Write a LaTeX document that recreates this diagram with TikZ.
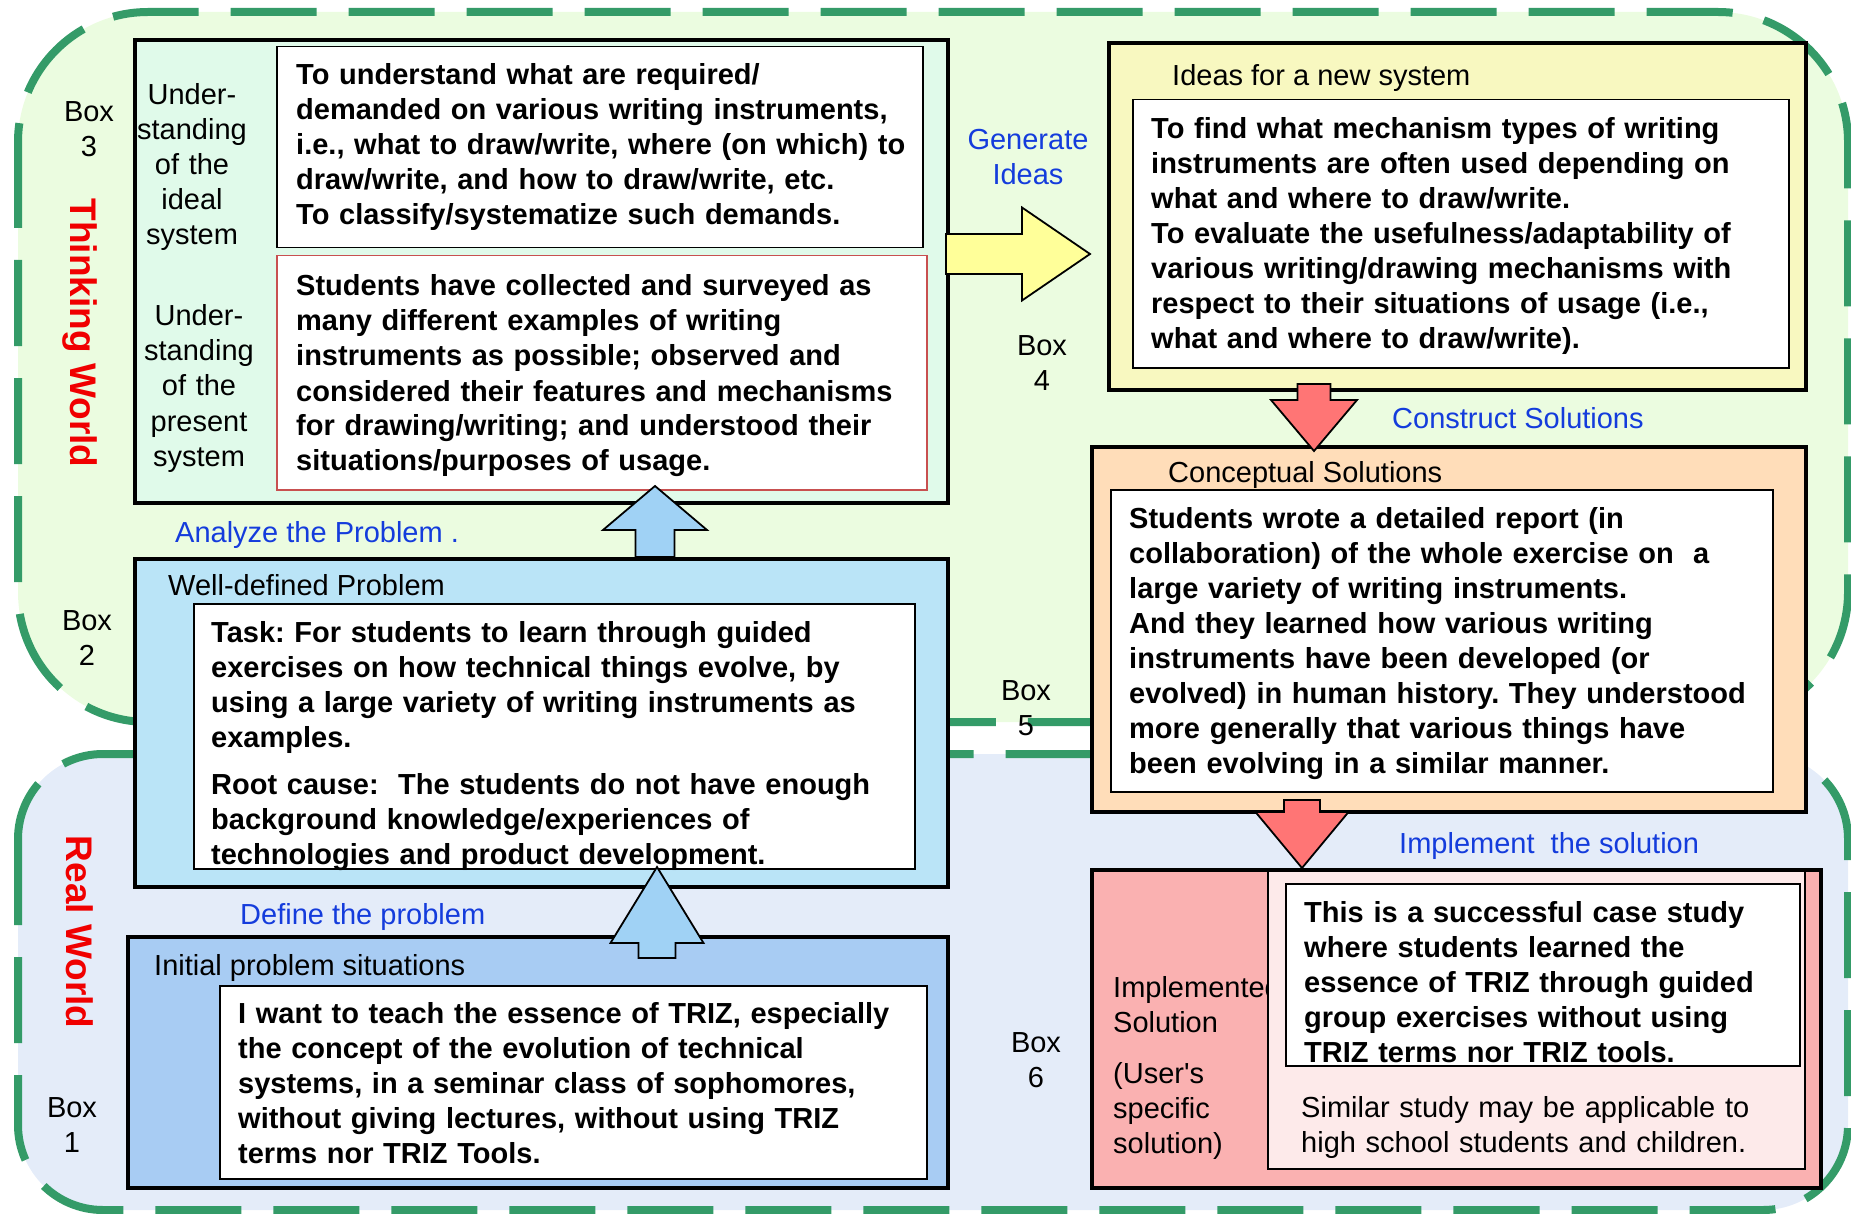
\documentclass[tikz,border=0pt]{standalone}
\usepackage{fontspec}
\setmainfont{Liberation Sans}
\usetikzlibrary{positioning,calc}
\frenchspacing

\definecolor{thinkbg}{RGB}{235,252,224}
\definecolor{realbg}{RGB}{228,236,249}
\definecolor{worldgreen}{RGB}{52,155,104}
\definecolor{worldred}{RGB}{240,0,0}
\definecolor{labelblue}{RGB}{20,60,220}
\definecolor{boxthreebg}{RGB}{224,250,234}
\definecolor{boxtwobg}{RGB}{186,228,247}
\definecolor{boxonebg}{RGB}{168,204,243}
\definecolor{boxfourbg}{RGB}{248,248,192}
\definecolor{boxfivebg}{RGB}{255,221,185}
\definecolor{boxsixbg}{RGB}{250,177,177}
\definecolor{boxsixinner}{RGB}{253,234,234}
\definecolor{redframe}{RGB}{200,80,80}
\definecolor{arrowsky}{RGB}{160,210,245}
\definecolor{arrowred}{RGB}{255,117,117}
\definecolor{arrowyellow}{RGB}{255,255,153}

\begin{document}
\begin{tikzpicture}[x=1pt, y=-1pt,
  every node/.style={font=\fontsize{29}{35}\selectfont, inner sep=0pt},
  world/.style={draw=worldgreen, line width=8pt, dash pattern=on 86pt off 32pt},
  frame/.style={draw=black, line width=4pt, anchor=north west},
  inbox/.style={draw=black, line width=1.5pt, fill=white, anchor=north west},
  body/.style={font=\fontsize{29}{35}\selectfont\bfseries, text width=720pt, align=left, anchor=base west},
  plain/.style={text width=720pt, align=left, anchor=base west},
  side/.style={text width=140pt, align=center, anchor=base},
  boxno/.style={text width=160pt, align=center, anchor=base},
  step label/.style={text=labelblue, anchor=base west},
  title/.style={anchor=base west},
  worldname/.style={rotate=-90, text=worldred, font=\fontsize{37}{44}\selectfont\bfseries},
  fat/.style={draw=black, line width=1.8pt, line join=miter}]

  \useasboundingbox (0,0) rectangle (1851,1214);

  % the two worlds
  \draw[world, fill=thinkbg, rounded corners=130pt] (18,12) rectangle (1848,722);
  \draw[world, fill=realbg, rounded corners=85pt] (18,754) rectangle (1848,1210);
  \node[worldname] (thinking) at (80,333) {Thinking World};
  \node[worldname] (real) at (80,932) {Real World};

  % box 3
  \node[frame, fill=boxthreebg, minimum width=813pt, minimum height=463pt] (box3) at (133,38) {};
  \node[inbox, minimum width=646pt, minimum height=201pt] (ideal) at (276,46) {};
  \node[inbox, draw=redframe, minimum width=650pt, minimum height=234pt] (present) at (276,255) {};
  \node[side] (idealname) at (192,105) {Under-\\standing\\of the\\ideal\\system};
  \node[side] (presentname) at (199,326) {Under-\\standing\\of the\\present\\system};
  \node[body] (idealtext) at (296,85) {To understand what are required/\\demanded on various writing instruments,\\i.e., what to draw/write, where (on which) to\\draw/write, and how to draw/write, etc.\\To classify/systematize such demands.};
  \node[body] (presenttext) at (296,296) {Students have collected and surveyed as\\many different examples of writing\\instruments as possible; observed and\\considered their features and mechanisms\\for drawing/writing; and understood their\\situations/purposes of usage.};

  % box 2
  \node[frame, fill=boxtwobg, minimum width=813pt, minimum height=328pt] (box2) at (133,557) {};
  \node[title] (box2title) at (168,595) {Well-defined Problem};
  \node[inbox, minimum width=721pt, minimum height=265pt] (task) at (193,603) {};
  \node[body] (tasktext) at (211,642) {Task: For students to learn through guided\\exercises on how technical things evolve, by\\using a large variety of writing instruments as\\examples.\\[12pt]Root cause:\ \ The students do not have enough\\background knowledge/experiences of\\technologies and product development.};

  % box 1
  \node[frame, fill=boxonebg, minimum width=820pt, minimum height=251pt] (box1) at (126,935) {};
  \node[title] (box1title) at (154,975) {Initial problem situations};
  \node[inbox, minimum width=707pt, minimum height=193pt] (situation) at (219,985) {};
  \node[body] (situationtext) at (238,1023) {I want to teach the essence of TRIZ, especially\\the concept of the evolution of technical\\systems, in a seminar class of sophomores,\\without giving lectures, without using TRIZ\\terms nor TRIZ Tools.};

  % box 4
  \node[frame, fill=boxfourbg, minimum width=697pt, minimum height=347pt] (box4) at (1107,41) {};
  \node[title] (box4title) at (1172,86) {Ideas for a new system};
  \node[inbox, minimum width=656pt, minimum height=268pt] (ideas) at (1132,99) {};
  \node[body] (ideastext) at (1151,139) {To find what mechanism types of writing\\instruments are often used depending on\\what and where to draw/write.\\To evaluate the usefulness/adaptability of\\various writing/drawing mechanisms with\\respect to their situations of usage (i.e.,\\what and where to draw/write).};

  % box 5
  \node[frame, fill=boxfivebg, minimum width=714pt, minimum height=365pt] (box5) at (1090,445) {};
  \node[title] (box5title) at (1168,482) {Conceptual Solutions};
  \node[inbox, minimum width=662pt, minimum height=302pt] (concept) at (1110,489) {};
  \node[body] (concepttext) at (1129,528) {Students wrote a detailed report (in\\collaboration) of the whole exercise on\ \ a\\large variety of writing instruments.\\And they learned how various writing\\instruments have been developed (or\\evolved) in human history. They understood\\more generally that various things have\\been evolving in a similar manner.};

  % box 6
  \node[frame, fill=boxsixbg, minimum width=729pt, minimum height=318pt] (box6) at (1090,868) {};
  \node[plain] (box6name) at (1113,997) {Implemented\\Solution\\[16pt](User\textquotesingle s\\specific\\solution)};
  \node[inbox, fill=boxsixinner, minimum width=537pt, minimum height=298pt] (result) at (1267,870) {};
  \node[inbox, minimum width=514pt, minimum height=182pt] (case) at (1285,883) {};
  \node[body] (casetext) at (1304,922) {This is a successful case study\\where students learned the\\essence of TRIZ through guided\\group exercises without using\\TRIZ terms nor TRIZ tools.};
  \node[plain] (similar) at (1301,1117) {Similar study may be applicable to\\high school students and children.};

  % box numbers
  \node[boxno] (no3) at (89,122) {Box\\3};
  \node[boxno] (no2) at (87,630) {Box\\2};
  \node[boxno] (no1) at (72,1117) {Box\\1};
  \node[boxno] (no4) at (1042,355) {Box\\4};
  \node[boxno] (no5) at (1026,700) {Box\\5};
  \node[boxno] (no6) at (1036,1052) {Box\\6};

  % step labels
  \node[step label] (define) at (240,924) {Define the problem};
  \node[step label] (analyze) at (175,542) {Analyze the Problem .};
  \node[step label, boxno] (generate) at (1028,150) {Generate\\Ideas};
  \node[step label] (construct) at (1392,428) {Construct Solutions};
  \node[step label] (implement) at (1399,853) {Implement\ \ the solution};

  % block arrows
  \coordinate (uptip1) at (657,867);
  \coordinate (uptip2) at (655,486);
  \coordinate (righttip) at (1090,254);
  \coordinate (downtip1) at (1314,451);
  \coordinate (downtip2) at (1302,868);
  \draw[fat, fill=arrowsky] (uptip1) -- ++(46.5,76) -- ++(-28,0) -- ++(0,15) -- ++(-37,0) -- ++(0,-15) -- ++(-28,0) -- cycle;
  \draw[fat, fill=arrowsky] (uptip2) -- ++(52,44) -- ++(-32.5,0) -- ++(0,27) -- ++(-39,0) -- ++(0,-27) -- ++(-32.5,0) -- cycle;
  \draw[fat, fill=arrowyellow] (righttip) -- ++(-68,-46.5) -- ++(0,26.5) -- ++(-76,0) -- ++(0,40) -- ++(76,0) -- ++(0,26.5) -- cycle;
  \draw[fat, fill=arrowred] (downtip1) -- ++(-43,-51) -- ++(26.5,0) -- ++(0,-16) -- ++(33,0) -- ++(0,16) -- ++(26.5,0) -- cycle;
  \draw[fat, fill=arrowred] (downtip2) -- ++(-46.5,-56) -- ++(28.5,0) -- ++(0,-12) -- ++(36,0) -- ++(0,12) -- ++(28.5,0) -- cycle;
\end{tikzpicture}
\end{document}
